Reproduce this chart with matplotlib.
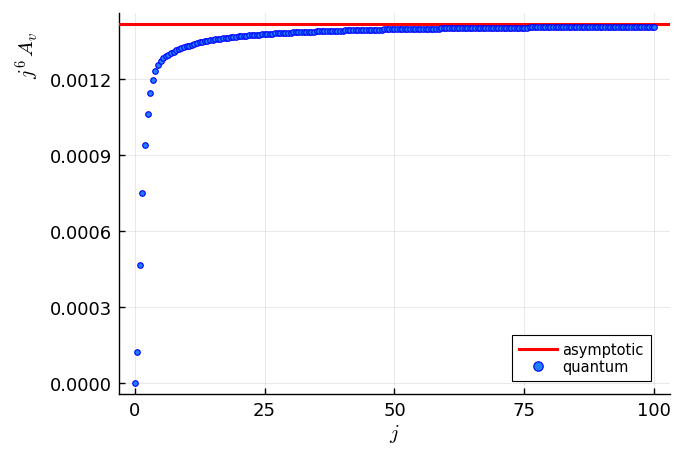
import numpy as np
import matplotlib
matplotlib.use("Agg")
import matplotlib.pyplot as plt

# ----------------------------
# Data
# ----------------------------
j_values = np.arange(0, 100.5, 0.5)

asymptotic_value = 1.416e-3

# j^6 A_v in units of 1e-6, j = 0, 0.5, 1, ... 100
quantum_e6 = [
    0, 122, 467, 750, 938, 1061, 1141, 1193, 1229, 1253,          # 0 - 4.5
    1270, 1281, 1287, 1294, 1300, 1305, 1311, 1315, 1319, 1323,   # 5 - 9.5
    1327, 1330, 1333, 1336, 1339, 1342, 1344, 1346, 1348, 1350,   # 10 - 14.5
    1352, 1354, 1355, 1357, 1358, 1360, 1361, 1362, 1364, 1365,   # 15 - 19.5
    1366, 1367, 1368, 1369, 1370, 1371, 1372, 1373, 1373, 1374,   # 20 - 24.5
    1375, 1376, 1376, 1377, 1378, 1378, 1379, 1380, 1380, 1381,   # 25 - 29.5
    1381, 1382, 1382, 1383, 1383, 1384, 1384, 1385, 1385, 1385,   # 30 - 34.5
    1386, 1386, 1387, 1387, 1387, 1388, 1388, 1388, 1389, 1389,   # 35 - 39.5
    1389, 1390, 1390, 1390, 1391, 1391, 1391, 1391, 1392, 1392,   # 40 - 44.5
    1392, 1392, 1393, 1393, 1393, 1393, 1394, 1394, 1394, 1394,   # 45 - 49.5
    1394, 1395, 1395, 1395, 1395, 1395, 1396, 1396, 1396, 1396,   # 50 - 54.5
    1396, 1396, 1397, 1397, 1397, 1397, 1397, 1397, 1398, 1398,   # 55 - 59.5
    1398, 1398, 1398, 1398, 1398, 1399, 1399, 1399, 1399, 1399,   # 60 - 64.5
    1399, 1399, 1399, 1400, 1400, 1400, 1400, 1400, 1400, 1400,   # 65 - 69.5
    1400, 1400, 1401, 1401, 1401, 1401, 1401, 1401, 1401, 1401,   # 70 - 74.5
    1401, 1401, 1401.5, 1401.6, 1401.7, 1401.8, 1401.9, 1402.0, 1402.1, 1402.2,  # 75 - 79.5
    1402.2, 1402.3, 1402.4, 1402.5, 1402.6, 1402.6, 1402.7, 1402.8, 1402.9, 1402.9,  # 80 - 84.5
    1403.0, 1403.1, 1403.2, 1403.2, 1403.3, 1403.4, 1403.5, 1403.5, 1403.6, 1403.7,  # 85 - 89.5
    1403.7, 1403.8, 1403.9, 1403.9, 1404.0, 1404.0, 1404.1, 1404.2, 1404.2, 1404.3,  # 90 - 94.5
    1404.3, 1404.4, 1404.5, 1404.5, 1404.6, 1404.6, 1404.7, 1404.8, 1404.8, 1404.9,  # 95 - 99.5
    1404.9,                                                        # 100
]
quantum = np.array(quantum_e6) * 1e-6

x_ticks = [0, 25, 50, 75, 100]
y_ticks = [0.0, 0.0003, 0.0006, 0.0009, 0.0012]

# ----------------------------
# Style
# ----------------------------
plt.rcParams["mathtext.fontset"] = "cm"
plt.rcParams["font.family"] = ["DejaVu Sans"]

fig = plt.figure(figsize=(6.84, 4.56), dpi=100)
ax = fig.add_axes([0.174, 0.134, 0.8055, 0.8355])

ax.axhline(asymptotic_value, color="#ff0000", lw=2.2, label="asymptotic", zorder=3)
ax.plot(j_values, quantum, "o", ls="none", ms=4, mfc="#1e7fff", mec="#0000ff",
        mew=0.8, label="quantum", zorder=4)

ax.set_xlim(-3, 103)
ax.set_ylim(-0.0000425, 0.0014585)
ax.set_xticks(x_ticks)
ax.set_yticks(y_ticks)
ax.set_yticklabels([f"{v:.4f}" for v in y_ticks])

ax.grid(True, color="black", alpha=0.1, lw=0.6)
ax.set_axisbelow(True)

for side in ["top", "right"]:
    ax.spines[side].set_visible(False)
for side in ["left", "bottom"]:
    ax.spines[side].set_linewidth(1.0)

ax.tick_params(direction="in", length=4, width=1, labelsize=13, pad=5)

ax.set_xlabel(r"$j$", fontsize=15, labelpad=2)
ax.set_ylabel(r"$j^6\,A_v$", fontsize=15)
ax.yaxis.set_label_coords(-0.14, 0.89)

leg = ax.legend(loc="lower right", bbox_to_anchor=(0.9655, 0.034), borderaxespad=0,
                fontsize=10.5, fancybox=False, framealpha=1, edgecolor="black",
                handlelength=2.6, handletextpad=0.35, labelspacing=0.1,
                markerscale=1.7, borderpad=0.5)
leg.get_frame().set_linewidth(0.8)

fig.savefig("out.png", dpi=100)
